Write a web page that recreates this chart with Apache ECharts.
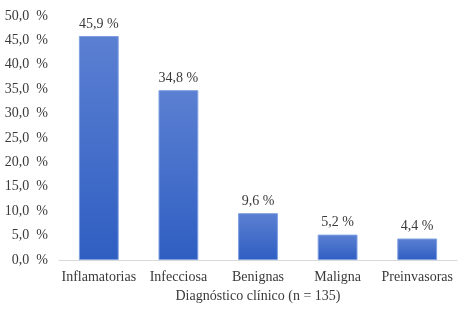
<!DOCTYPE html>
<html>
<head>
<meta charset="utf-8">
<script src="https://cdn.jsdelivr.net/npm/echarts@6/dist/echarts.min.js"></script>
<style>
  html, body { margin: 0; padding: 0; background: #fff; }
  #chart { width: 461px; height: 313px; }
</style>
</head>
<body>
<div id="chart"></div>
<script>
// datos
var categorias = ['Inflamatorias', 'Infecciosa', 'Benignas', 'Maligna', 'Preinvasoras'];
var porcentajes = [45.9, 34.8, 9.6, 5.2, 4.4];
var tituloX = 'Diagnóstico clínico (n = 135)';

var fuente = '"Liberation Serif", "DejaVu Serif", serif';

function fmt(v, dec) {
    return v.toFixed(dec).replace('.', ',') + ' %';
}

var myChart = echarts.init(document.getElementById('chart'));
var option = {
    backgroundColor: '#fff',
    animation: false,
    grid: { left: 59, right: 4, top: 16, bottom: 53 },
    xAxis: {
        type: 'category',
        data: categorias,
        name: tituloX,
        nameLocation: 'middle',
        nameGap: 29,
        nameTextStyle: { fontFamily: fuente, fontSize: 14, color: '#3a3a3a' },
        axisLine: { lineStyle: { color: '#d9d9d9', width: 1 } },
        axisTick: { show: false },
        axisLabel: { fontFamily: fuente, fontSize: 14, color: '#3a3a3a', margin: 10, interval: 0 }
    },
    yAxis: {
        type: 'value',
        min: 0,
        max: 50,
        interval: 5,
        splitLine: { show: false },
        axisLine: { show: false },
        axisTick: { show: false },
        axisLabel: {
            fontFamily: fuente, fontSize: 14, color: '#3a3a3a', margin: 11,
            formatter: function (v) { return v.toFixed(1).replace('.', ',') + '  %'; }
        }
    },
    series: [{
        type: 'bar',
        data: porcentajes,
        barWidth: '50%',
        itemStyle: {
            color: new echarts.graphic.LinearGradient(0, 0, 0, 1, [
                { offset: 0, color: '#5b80d2' },
                { offset: 1, color: '#2f5ec2' }
            ]),
            borderColor: '#7f9fe0',
            borderWidth: 1
        },
        label: {
            show: true,
            position: 'top',
            distance: 5,
            fontFamily: fuente,
            fontSize: 14,
            color: '#3a3a3a',
            formatter: function (p) { return fmt(p.value, 1); }
        }
    }]
};
myChart.setOption(option);
</script>
</body>
</html>
